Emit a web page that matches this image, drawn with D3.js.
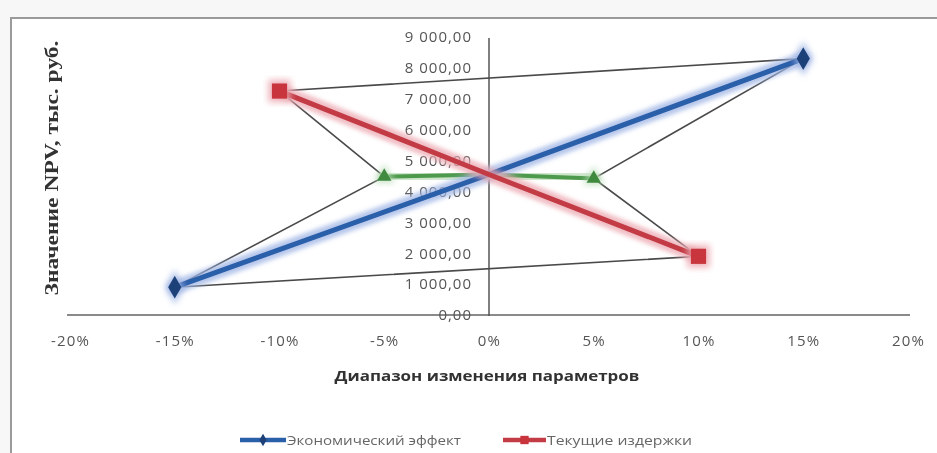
<!DOCTYPE html>
<html>
<head>
<meta charset="utf-8">
<script src="https://cdn.jsdelivr.net/npm/d3@7"></script>
<style>
  html, body { margin: 0; padding: 0; background: #ffffff; }
  svg { display: block; }
</style>
</head>
<body>
<svg id="chart" width="937" height="453"></svg>
<script>
// Sensitivity of NPV to parameter changes
const xTicks = [-0.20, -0.15, -0.10, -0.05, 0, 0.05, 0.10, 0.15, 0.20];
const yTicks = [0, 1000, 2000, 3000, 4000, 5000, 6000, 7000, 8000, 9000];

const effectX = [-0.15, 0, 0.15];
const effectY = [900, 4550, 8300];

const costX = [-0.10, 0, 0.10];
const costY = [7250, 4550, 1900];

const otherX = [-0.05, 0, 0.05];
const otherY = [4480, 4550, 4420];

const legendNames = ["Экономический эффект", "Текущие издержки"];
const yTitle = "Значение NPV, тыс. руб.";
const xTitle = "Диапазон изменения параметров";

// closed outline joining the outer points of the three series: [series, index]
const outline = [["cost", 0], ["effect", 2], ["other", 2], ["cost", 2],
                 ["effect", 0], ["other", 0], ["cost", 0]];

const series = {
  effect: effectX.map((x, i) => ({ x, y: effectY[i] })),
  cost:   costX.map((x, i) => ({ x, y: costY[i] })),
  other:  otherX.map((x, i) => ({ x, y: otherY[i] }))
};

const svg = d3.select("#chart");
const ru = d3.formatLocale({ decimal: ",", thousands: "\u00a0", grouping: [3],
                             currency: ["", " руб."], minus: "-", percent: "%" });
const fmtY = ru.format(",.2f");
const fmtX = ru.format(".0%");

const x = d3.scaleLinear().domain([-0.20, 0.20]).range([70, 908]);
const y = d3.scaleLinear().domain([0, 9000]).range([315, 37]);

const defs = svg.append("defs");
defs.append("filter").attr("id", "halo").attr("x", "-20%").attr("y", "-20%")
  .attr("width", "140%").attr("height", "140%")
  .append("feGaussianBlur").attr("stdDeviation", 2.2);
defs.append("filter").attr("id", "soft")
  .append("feGaussianBlur").attr("stdDeviation", 0.45);

// page strip and chart frame
svg.append("rect").attr("x", 0).attr("y", 0).attr("width", 937).attr("height", 453).attr("fill", "#f7f7f7");
svg.append("rect").attr("x", 11).attr("y", 18).attr("width", 940).attr("height", 450)
  .attr("fill", "#ffffff").attr("stroke", "#9a9a9a").attr("stroke-width", 2);

const g = svg.append("g").attr("filter", "url(#soft)");

// x axis along zero
const xAxis = d3.axisBottom(x).tickValues(xTicks).tickFormat(fmtX).tickSize(0).tickPadding(20);
const gx = g.append("g").attr("transform", `translate(0,${y(0)})`).call(xAxis);
gx.select(".domain").attr("d", `M67,0H910`).attr("stroke", "#8a8a8a").attr("stroke-width", 2);
gx.selectAll("text").attr("font-family", "Open Sans, sans-serif").attr("font-size", 15)
  .attr("letter-spacing", 1.2).attr("fill", "#555");

// y axis through x = 0
const yAxis = d3.axisLeft(y).tickValues(yTicks).tickFormat(fmtY).tickSize(0).tickPadding(17);
const gy = g.append("g").attr("transform", `translate(${x(0)},0)`).call(yAxis);
gy.select(".domain").attr("d", `M0,${y(0) + 1}V38`).attr("stroke", "#555").attr("stroke-width", 1.5);
gy.selectAll("text").attr("font-family", "Open Sans, sans-serif").attr("font-size", 15)
  .attr("letter-spacing", 1).attr("fill", "#555");

// axis titles
g.append("text")
  .attr("transform", `translate(58,168) rotate(-90)`)
  .attr("text-anchor", "middle")
  .attr("font-family", "Liberation Serif, serif").attr("font-weight", "bold")
  .attr("font-size", 19).attr("fill", "#333")
  .attr("textLength", 255).attr("lengthAdjust", "spacingAndGlyphs")
  .text(yTitle);
g.append("text")
  .attr("x", 487).attr("y", 381)
  .attr("text-anchor", "middle")
  .attr("font-family", "Open Sans, sans-serif").attr("font-weight", "bold")
  .attr("font-size", 15).attr("fill", "#333")
  .attr("textLength", 305).attr("lengthAdjust", "spacingAndGlyphs")
  .text(xTitle);

const line = d3.line().x(d => x(d.x)).y(d => y(d.y));

// thin outline
g.append("path")
  .datum(outline.map(([s, i]) => series[s][i]))
  .attr("d", line).attr("fill", "none")
  .attr("stroke", "#4a4a4a").attr("stroke-width", 1.6);

const styles = {
  other:  { color: "#4e9a4e", halo: "#b9dcb6", width: 4 },
  effect: { color: "#2c5ea9", halo: "#9db4e4", width: 5 },
  cost:   { color: "#c23a44", halo: "#eba7b0", width: 5 }
};

["other", "effect", "cost"].forEach(k => {
  const st = styles[k];
  g.append("path").datum(series[k]).attr("d", line).attr("fill", "none")
    .attr("stroke", st.halo).attr("stroke-width", st.width + 9).attr("stroke-opacity", 0.75)
    .attr("stroke-linecap", "round").attr("filter", "url(#halo)");
  g.append("path").datum(series[k]).attr("d", line).attr("fill", "none")
    .attr("stroke", st.color).attr("stroke-width", st.width).attr("stroke-linejoin", "round");
});

// markers at the outer points
const sym = {
  effect: d3.symbol().type(d3.symbolDiamond).size(150),
  cost:   d3.symbol().type(d3.symbolSquare).size(230),
  other:  d3.symbol().type(d3.symbolTriangle).size(90)
};
const markerFill = { effect: "#1f3f78", cost: "#c8343c", other: "#3f8a3f" };

["other", "effect", "cost"].forEach(k => {
  const pts = series[k].filter(d => d.x !== 0);
  g.selectAll(null).data(pts).enter().append("path")
    .attr("d", sym[k]).attr("fill", styles[k].halo).attr("opacity", 0.8)
    .attr("filter", "url(#halo)").attr("transform", d => `translate(${x(d.x)},${y(d.y)}) scale(1.5)`);
  g.selectAll(null).data(pts).enter().append("path")
    .attr("transform", d => `translate(${x(d.x)},${y(d.y)})`)
    .attr("d", sym[k]).attr("fill", markerFill[k]);
});

// legend
const legend = g.append("g").attr("transform", "translate(0,440)");
const legendItems = [
  { key: "effect", name: legendNames[0], x0: 240, x1: 286, len: 174 },
  { key: "cost",   name: legendNames[1], x0: 503, x1: 546, len: 145 }
];
legendItems.forEach(it => {
  legend.append("line").attr("x1", it.x0).attr("x2", it.x1).attr("y1", 0).attr("y2", 0)
    .attr("stroke", styles[it.key].color).attr("stroke-width", 4.5);
  legend.append("path").attr("transform", `translate(${(it.x0 + it.x1) / 2},0) scale(0.55)`)
    .attr("d", sym[it.key]).attr("fill", markerFill[it.key]);
  legend.append("text").attr("x", it.x1 + 1).attr("y", 4.5)
    .attr("font-family", "Open Sans, sans-serif").attr("font-size", 13).attr("fill", "#666")
    .attr("textLength", it.len).attr("lengthAdjust", "spacingAndGlyphs")
    .text(it.name);
});
</script>
</body>
</html>
